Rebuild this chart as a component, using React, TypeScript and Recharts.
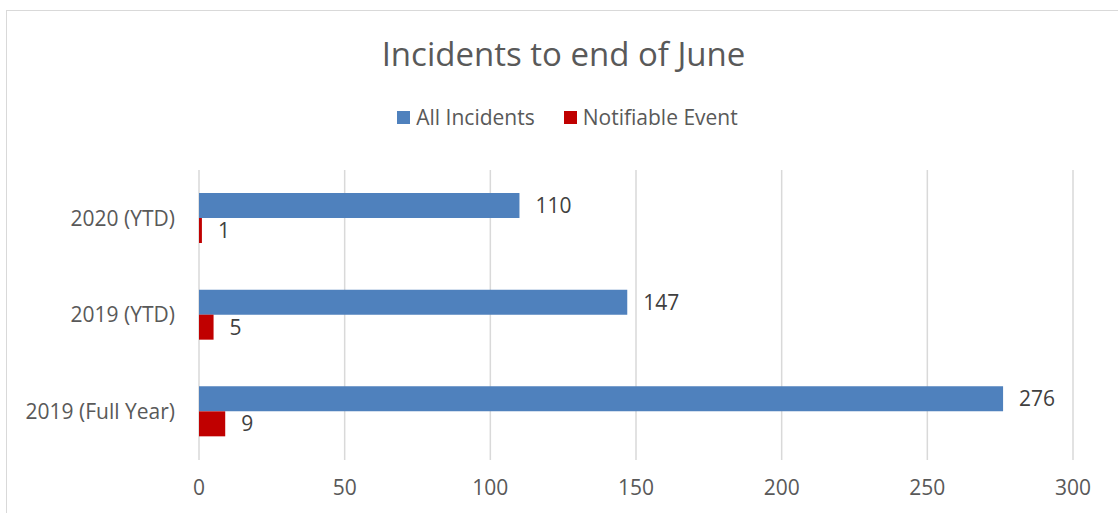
import React from "react";
import { BarChart, Bar, XAxis, YAxis, CartesianGrid, LabelList } from "recharts";

const categories = ["2020 (YTD)", "2019 (YTD)", "2019 (Full Year)"];
const allIncidents = [110, 147, 276];
const notifiableEvent = [1, 5, 9];
const xTicks = [0, 50, 100, 150, 200, 250, 300];
const seriesNames = ["All Incidents", "Notifiable Event"];
const seriesColors = ["#4F81BD", "#C00000"];
const title = "Incidents to end of June";

const data = categories.map((c, i) => ({
  name: c,
  all: allIncidents[i],
  notif: notifiableEvent[i],
}));

const FONT = "'Open Sans', Lato, sans-serif";

export default function App() {
  return (
    <div style={{ position: "absolute", left: 0, top: 0, width: 1118, height: 513, fontFamily: FONT, background: "#fff" }}>
      <div
        style={{
          position: "absolute",
          left: 6,
          top: 10,
          width: 1112,
          height: 503,
          boxSizing: "border-box",
          borderTop: "1.5px solid #d9d9d9",
          borderLeft: "1.5px solid #d9d9d9",
        }}
      />
      <div
        style={{
          position: "absolute",
          left: 0,
          width: 1127,
          top: 32,
          textAlign: "center",
          fontSize: 33,
          color: "#595959",
          lineHeight: "44px",
        }}
      >
        {title}
      </div>
      <div
        style={{
          position: "absolute",
          left: 0,
          width: 1135,
          top: 104,
          display: "flex",
          justifyContent: "center",
          alignItems: "center",
          fontSize: 21,
          color: "#595959",
          lineHeight: "26px",
        }}
      >
        {seriesNames.map((n, i) => (
          <div key={n} style={{ display: "flex", alignItems: "center", marginRight: i === 0 ? 29 : 0 }}>
            <div style={{ width: 13, height: 13, background: seriesColors[i], marginRight: 6 }} />
            <span>{n}</span>
          </div>
        ))}
      </div>
      <div style={{ position: "absolute", left: 0, top: 0 }}>
        <BarChart
          width={1118}
          height={513}
          data={data}
          layout="vertical"
          margin={{ top: 170, right: 45, bottom: 23, left: 0 }}
          barGap={0}
        >
          <CartesianGrid horizontal={false} stroke="#d9d9d9" strokeWidth={1.5} />
          <XAxis
            type="number"
            domain={[0, 300]}
            ticks={xTicks}
            axisLine={false}
            tickLine={false}
            tickMargin={14}
            height={30}
            tick={{ fontSize: 21, fill: "#595959", fontFamily: FONT }}
            interval={0}
          />
          <YAxis
            type="category"
            dataKey="name"
            width={199}
            axisLine={false}
            tickLine={false}
            tickMargin={18}
            tick={{ fontSize: 21, fill: "#595959", fontFamily: FONT }}
          />
          <Bar dataKey="all" name={seriesNames[0]} fill={seriesColors[0]} barSize={25} isAnimationActive={false}>
            <LabelList dataKey="all" position="right" offset={16} fill="#404040" fontSize={21} fontFamily={FONT} />
          </Bar>
          <Bar dataKey="notif" name={seriesNames[1]} fill={seriesColors[1]} barSize={25} isAnimationActive={false}>
            <LabelList dataKey="notif" position="right" offset={16} fill="#404040" fontSize={21} fontFamily={FONT} />
          </Bar>
        </BarChart>
      </div>
    </div>
  );
}
